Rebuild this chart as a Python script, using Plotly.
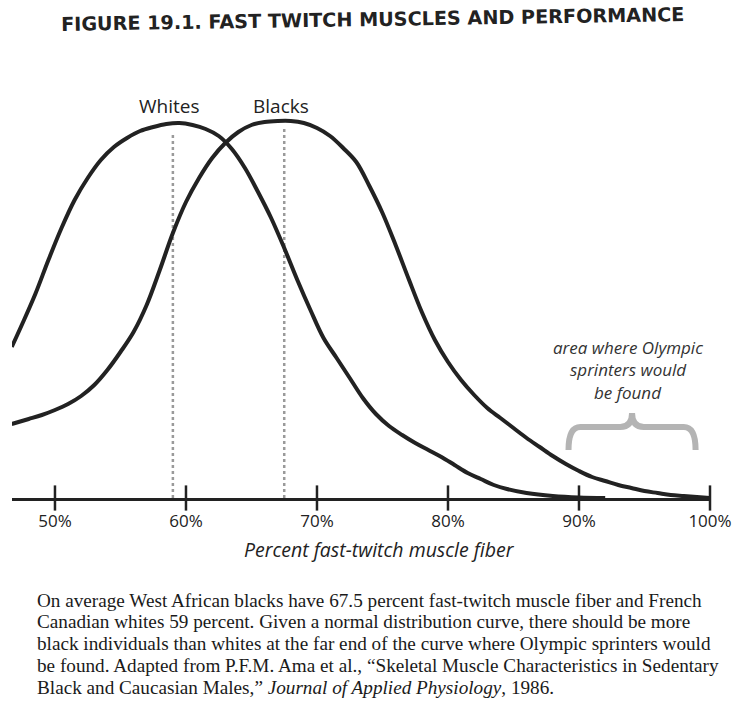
import plotly.graph_objects as go

# ---- data ----
whites_x = [46.7, 47.5, 48.5, 49.5, 50.5, 51.5, 52.5, 53.5, 54.5, 55.5, 56.5, 57.5, 58.5, 59.5,
            60.5, 61.5, 62.5, 63.5, 64.5, 65.5, 66.5, 67.5, 68.5, 69.5, 70.5, 71.5, 72.5, 73.5,
            74.5, 75.5, 76.5, 77.5, 78.5, 79.5, 80.5, 81.5, 82.5, 83.5, 84.5, 86.0, 88.0, 90.0, 92.0]
whites_y = [151, 174, 204, 238, 270, 298, 320, 338, 351, 360, 367, 371, 374, 375,
            373, 369, 362, 349, 330, 306, 280, 250, 218, 188, 160, 140, 120, 100,
            84, 72, 63, 55, 48, 41, 33, 25, 19, 13, 9, 5, 2, 0.5, 0]
blacks_x = [46.7, 48, 49, 50, 51, 52, 53, 54, 55, 56, 57, 58, 59, 60, 61, 62, 63, 64, 65, 66, 67,
            68, 69, 70, 71, 72, 73, 74, 75, 76, 77, 78, 79, 80, 81, 82, 83, 84, 85, 86, 87, 88,
            89, 90, 91, 92, 93, 94, 95, 96, 97, 98, 99, 100]
blacks_y = [74, 79, 83, 88, 94, 102, 113, 128, 146, 166, 193, 228, 265, 296, 320, 340, 355, 366,
            373, 376, 377, 377, 375, 370, 362, 350, 336, 312, 285, 253, 219, 186, 158, 136, 118,
            103, 90, 80, 70, 60, 51, 42, 34, 27, 21, 17, 13, 10, 7, 5, 3, 2, 1, 0]
group_names = ["Whites", "Blacks"]
group_means = [59.0, 67.5]
mean_line_tops = [366, 372]
tick_vals = [50, 60, 70, 80, 90, 100]
tick_text = ["50%", "60%", "70%", "80%", "90%", "100%"]
sprinter_zone = [89.2, 98.9]

title_text = "FIGURE 19.1. FAST TWITCH MUSCLES AND PERFORMANCE"
x_title = "Percent fast-twitch muscle fiber"
zone_text = ["area where Olympic", "sprinters would", "be found"]
caption_lines = [
    "On average West African blacks have 67.5 percent fast-twitch muscle fiber and French",
    "Canadian whites 59 percent. Given a normal distribution curve, there should be more",
    "black individuals than whites at the far end of the curve where Olympic sprinters would",
    "be found. Adapted from P.F.M. Ama et al., \u201cSkeletal Muscle Characteristics in Sedentary",
    "Black and Caucasian Males,\u201d <i>Journal of Applied Physiology</i>, 1986.",
]

INK = "#222222"
SANS = "Open Sans, Noto Sans, sans-serif"
SERIF = "Liberation Serif, DejaVu Serif, serif"

# layout geometry (pixels)
W, H = 739, 701
L, R, T, B = 12, 29, 98, 203
PW, PH = W - L - R, H - T - B


def px_x(px):
    return (px - L) / PW


def px_y(py):
    return (H - B - py) / PH


fig = go.Figure()

# dotted mean lines
for m, top in zip(group_means, mean_line_tops):
    fig.add_trace(go.Scatter(x=[m, m], y=[0, top], mode="lines",
                             line=dict(color="#9a9a9a", width=2.5, dash="dot"),
                             hoverinfo="skip", showlegend=False))

fig.add_trace(go.Scatter(x=whites_x, y=whites_y, mode="lines", name="Whites",
                         line=dict(color=INK, width=4, shape="spline", smoothing=1.0),
                         showlegend=False))
fig.add_trace(go.Scatter(x=blacks_x, y=blacks_y, mode="lines", name="Blacks",
                         line=dict(color=INK, width=4, shape="spline", smoothing=1.0),
                         showlegend=False))

# tick marks crossing the axis line
fig.add_trace(go.Scatter(x=tick_vals, y=[0] * len(tick_vals), mode="markers",
                         marker=dict(symbol="line-ns", size=18,
                                     line=dict(color=INK, width=2.5)),
                         cliponaxis=False, hoverinfo="skip", showlegend=False))

# group labels
for name, m in zip(group_names, group_means):
    fig.add_annotation(x=m, y=376, xref="x", yref="y", text=name, showarrow=False,
                       yanchor="bottom", yshift=1, xshift=-3,
                       font=dict(family=SANS, size=19, color=INK))

# sprinter zone text
for i, t in enumerate(zone_text):
    fig.add_annotation(x=px_x(628), y=px_y(347 + 22.5 * i), xref="paper", yref="paper",
                       text="<i>" + t + "</i>", showarrow=False,
                       xanchor="center", yanchor="middle",
                       font=dict(family=SANS, size=17, color="#333333"))

# brace over the sprinter zone
x0, x1 = sprinter_zone
xc = (x0 + x1) / 2
yt, ya, ye = 85, 71, 48
dx = 0.9
brace = (f"M {x0},{ye} Q {x0},{ya} {x0+dx},{ya} L {xc-dx},{ya} Q {xc},{ya} {xc},{yt} "
         f"Q {xc},{ya} {xc+dx},{ya} L {x1-dx},{ya} Q {x1},{ya} {x1},{ye}")
fig.add_shape(type="path", path=brace, xref="x", yref="y",
              line=dict(color="#b4b4b4", width=6))

# title
fig.add_annotation(x=px_x(372), y=px_y(20), xref="paper", yref="paper", yanchor="middle",
                   xanchor="center", text="<b>" + title_text + "</b>", showarrow=False,
                   textangle=-0.9,
                   font=dict(family="DejaVu Sans, sans-serif", size=19.2, color=INK))

# x-axis title
fig.add_annotation(x=px_x(380), y=px_y(549), xref="paper", yref="paper", yanchor="middle",
                   xanchor="center",
                   text="<i>" + x_title + "</i>", showarrow=False,
                   font=dict(family=SANS, size=19.5, color=INK))

# caption
for i, line in enumerate(caption_lines):
    fig.add_annotation(x=px_x(35), y=px_y(600 + 21.8 * i), xref="paper", yref="paper",
                       xanchor="left", yanchor="middle", text=line, showarrow=False,
                       font=dict(family=SERIF, size=19.2, color="#1a1a1a"))

fig.update_layout(
    width=W, height=H,
    margin=dict(l=L, r=R, t=T, b=B),
    paper_bgcolor="white", plot_bgcolor="white",
    hovermode=False,
    xaxis=dict(range=[46.72, 100.0], showgrid=False, zeroline=False, automargin=False,
               showline=True, linecolor=INK, linewidth=3,
               tickmode="array", tickvals=tick_vals, ticktext=tick_text,
               ticks="", ticklabelstandoff=6,
               tickfont=dict(family=SANS, size=17, color=INK)),
    yaxis=dict(range=[0, 400], visible=False, automargin=False),
)

fig.write_html("out.html", config={"displayModeBar": False},
               post_script="document.body.style.margin='0';document.body.style.overflow='hidden';")
